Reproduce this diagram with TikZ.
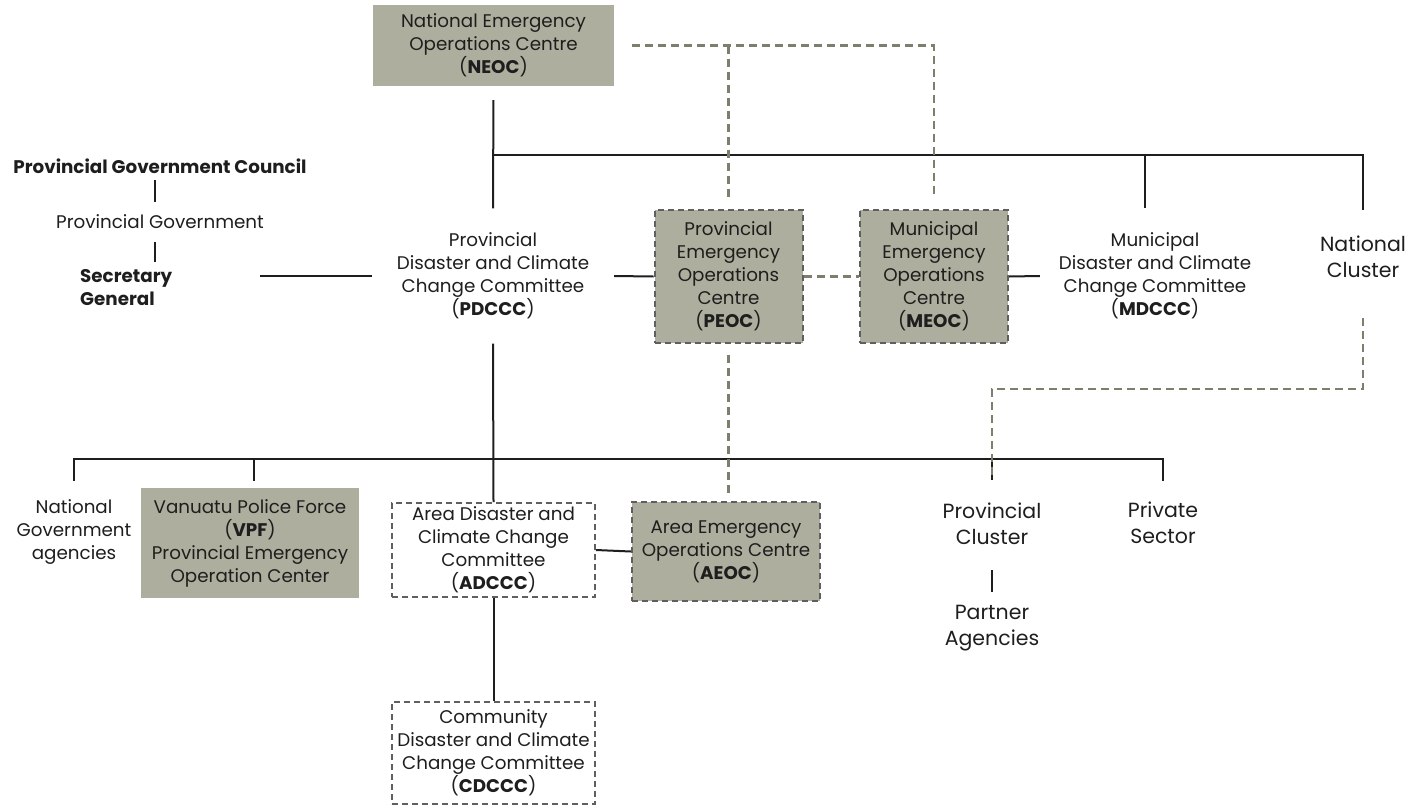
\documentclass[tikz,border=0pt]{standalone}
\usepackage{fontspec}
\setmainfont{Poppins}
\definecolor{boxfill}{HTML}{AEAE9E}
\definecolor{dashc}{HTML}{7E7E6C}
\definecolor{bordc}{HTML}{5F5F5F}
\definecolor{txtc}{HTML}{1E1E1E}
\begin{document}
\begin{tikzpicture}[x=1pt,y=-1pt,
  txt/.style={align=center, font=\fontsize{18.3}{23}\selectfont, text=txtc, inner sep=0pt},
  bigtxt/.style={align=center, font=\fontsize{20.5}{26}\selectfont, text=txtc, inner sep=0pt},
  fillbox/.style={txt, fill=boxfill},
  dbox/.style={draw=bordc, dash pattern=on 6pt off 4pt, line width=2pt},
  conn/.style={draw=dashc, line width=2.2pt, dash pattern=on 8pt off 5pt},
  link/.style={draw=txtc, line width=2pt}]
\useasboundingbox (0,0) rectangle (1410,806);

% top
\node[fillbox, minimum width=241, minimum height=81] (neoc) at (493.5,45.5) {National Emergency\\Operations Centre\\(\textbf{NEOC})};

% left column
\node[txt, minimum height=28] (pgc) at (160,166) {\textbf{Provincial Government Council}};
\node[txt, minimum height=40] (pg) at (160,222) {Provincial Government};
\node[txt, align=left, anchor=west, minimum height=52] (sg) at (80,288) {\textbf{Secretary}\\\textbf{General}};
\coordinate (sgR) at (260,276);

% middle row
\node[txt, minimum width=242, minimum height=135] (pdccc) at (493,276) {Provincial\\Disaster and Climate\\Change Committee\\(\textbf{PDCCC})};
\node[fillbox, dbox, minimum width=148, minimum height=133] (peoc) at (728.5,276.5) {Provincial\\Emergency\\Operations\\Centre\\(\textbf{PEOC})};
\node[fillbox, dbox, minimum width=148, minimum height=133] (meoc) at (934,276.5) {Municipal\\Emergency\\Operations\\Centre\\(\textbf{MEOC})};
\node[txt, minimum width=230, minimum height=135] (mdccc) at (1155,276) {Municipal\\Disaster and Climate\\Change Committee\\(\textbf{MDCCC})};
\node[bigtxt, minimum height=94] (ncl) at (1363,257) {National\\Cluster};
\coordinate (tb) at (493,155);

% bottom row
\node[txt, minimum height=102] (nga) at (74,532) {National\\Government\\agencies};
\node[fillbox, minimum width=218, minimum height=110] (vpf) at (250,543) {Vanuatu Police Force\\(\textbf{VPF})\\Provincial Emergency\\Operation Center};
\node[txt, dbox, fill=white, minimum width=203, minimum height=94] (adccc) at (493.5,550) {Area Disaster and\\Climate Change\\Committee\\(\textbf{ADCCC})};
\node[fillbox, dbox, minimum width=188, minimum height=99] (aeoc) at (726,551.5) {Area Emergency\\Operations Centre\\(\textbf{AEOC})};
\node[bigtxt, minimum height=88] (pcl) at (992,524) {Provincial\\Cluster};
\node[bigtxt, minimum height=84] (priv) at (1163,523) {Private\\Sector};
\node[bigtxt, minimum height=72] (pa) at (992,628) {Partner\\Agencies};
\node[txt, dbox, fill=white, minimum width=203, minimum height=102] (cdccc) at (493.5,753) {Community\\Disaster and Climate\\Change Committee\\(\textbf{CDCCC})};

% solid connectors
\draw[link] ([xshift=-5pt]pgc.south) -- ([xshift=-5pt]pg.north);
\draw[link] ([xshift=-5pt]pg.south) -- ([xshift=-5pt]pg.south |- sg.north);
\draw[link] (sgR) -- (sgR -| pdccc.west);
\draw[link, shorten <=14pt] (neoc.south) -- (pdccc.north);
\draw[link] (tb) -| ([xshift=-10pt]mdccc.north);
\draw[link] (tb) -| (ncl.north);
\draw[link] (pdccc.east) -- (peoc.west);
\draw[link] (meoc.east) -- (mdccc.west);
\draw[link] (pdccc.south) -- (adccc.north);
\draw[link] (nga.north) -- ++(0,-22) -| (priv.north);
\draw[link, shorten >=7pt] ([xshift=4pt]vpf.north) ++(0,-29) -- ([xshift=4pt]vpf.north);
\draw[link] (pcl.north) -- ++(0,-21);
\draw[link] (adccc.east) -- (aeoc.west);
\draw[link] (adccc.south) -- (cdccc.north);
\draw[link, shorten <=2pt] (pcl.south) -- (pa.north);

% dashed connectors
\draw[conn, shorten <=18pt, shorten >=12pt] (neoc.east) -| (meoc.north);
\draw[conn, shorten >=12pt] (peoc.north |- neoc.east) -- (peoc.north);
\draw[conn] (peoc.east) -- (meoc.west);
\draw[conn, shorten <=11pt, shorten >=5pt] (peoc.south) -- (peoc.south |- aeoc.north);
\draw[conn, shorten <=14pt] (ncl.south) -- ++(0,85) -| (pcl.north);
\end{tikzpicture}
\end{document}
